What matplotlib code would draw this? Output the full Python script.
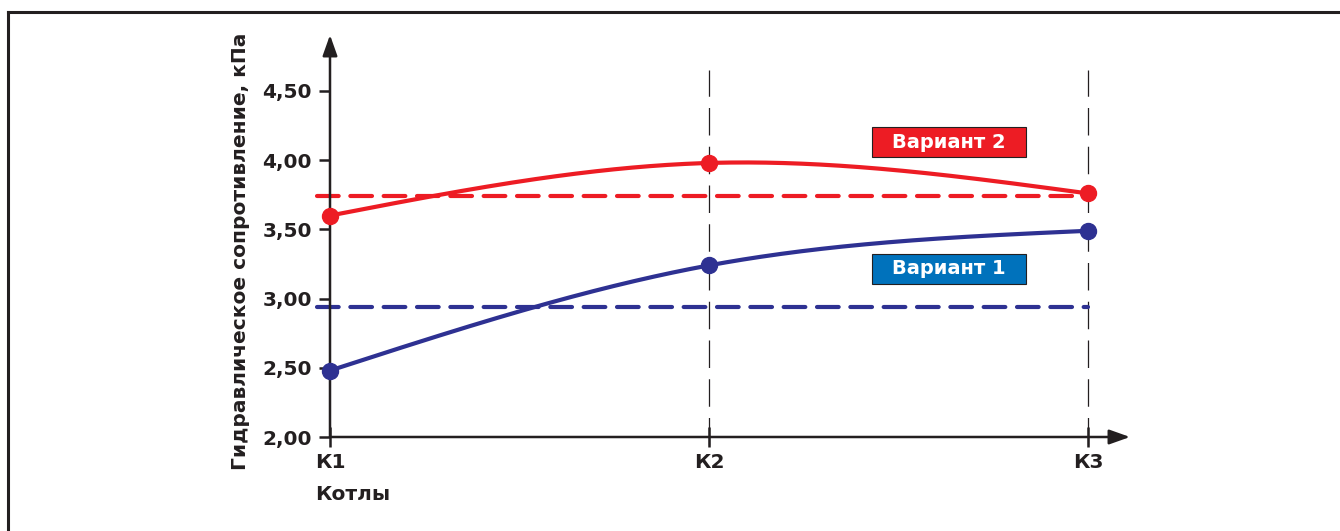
import matplotlib.pyplot as plt
import numpy as np
from matplotlib.patches import Rectangle
from matplotlib.lines import Line2D

# Data
boilers = ['К1', 'К2', 'К3']
variant1 = [2.48, 3.24, 3.49]
variant2 = [3.60, 3.98, 3.76]
variant1_level = 2.94
variant2_level = 3.74
y_ticks = [2.0, 2.5, 3.0, 3.5, 4.0, 4.5]
y_tick_labels = ['2,00', '2,50', '3,00', '3,50', '4,00', '4,50']

W, H = 1340, 531
DARK = '#231f20'
RED = '#ed1c24'
NAVY = '#2e3192'
BOX_BLUE = '#0072bc'
FONT = 'DejaVu Sans'


def natural_spline(x, y, xs):
    """Smooth curve through the points (natural cubic spline)"""
    x = np.asarray(x, float)
    y = np.asarray(y, float)
    n = len(x)
    h = np.diff(x)
    A = np.zeros((n, n))
    b = np.zeros(n)
    A[0, 0] = A[-1, -1] = 1
    for i in range(1, n - 1):
        A[i, i - 1] = h[i - 1]
        A[i, i] = 2 * (h[i - 1] + h[i])
        A[i, i + 1] = h[i]
        b[i] = 6 * ((y[i + 1] - y[i]) / h[i] - (y[i] - y[i - 1]) / h[i - 1])
    M = np.linalg.solve(A, b)
    out = np.empty_like(xs)
    for k, t in enumerate(xs):
        i = min(max(np.searchsorted(x, t) - 1, 0), n - 2)
        a = x[i + 1] - t
        c = t - x[i]
        out[k] = (M[i] * a ** 3 + M[i + 1] * c ** 3) / (6 * h[i]) \
            + (y[i] / h[i] - M[i] * h[i] / 6) * a \
            + (y[i + 1] / h[i] - M[i + 1] * h[i] / 6) * c
    return out


fig = plt.figure(figsize=(W / 100, H / 100), dpi=100)

# outer frame (top and left edges visible)
fig.add_artist(Line2D([7.5 / W, 1], [1 - 12 / H, 1 - 12 / H], color=DARK, lw=2.2, transform=fig.transFigure))
fig.add_artist(Line2D([7.5 / W, 7.5 / W], [0, 1 - 12 / H], color=DARK, lw=2.2, transform=fig.transFigure))

px_x = 379.0   # pixels per category step
px_y = 138.4   # pixels per 1 kPa
ax = fig.add_axes([330 / W, (H - 437) / H, 800 / W, 402 / H])
ax.set_xlim(0, 800 / px_x)
ax.set_ylim(2.0, 2.0 + 402 / px_y)
for s in ax.spines.values():
    s.set_visible(False)
ax.patch.set_alpha(0)

x = np.arange(len(boilers))

# axis arrows
arrow = dict(arrowstyle='-|>,head_length=0.9,head_width=0.32', color=DARK, lw=1.8,
             mutation_scale=14, shrinkA=0, shrinkB=0)
ax.annotate('', xy=(1, 0), xytext=(0, 0), xycoords='axes fraction', arrowprops=arrow)
ax.annotate('', xy=(0, 1), xytext=(0, 0), xycoords='axes fraction', arrowprops=arrow)

# gray dashed guides at K2 and K3
for xi in x[1:]:
    ax.plot([xi, xi], [2.0 - 8 / px_y, 4.65], color=DARK, lw=0.9, ls=(0, (22, 9)),
            clip_on=False, zorder=1)

# level lines
x_left = -13 / px_x
ax.plot([x_left, x[-1]], [variant2_level] * 2, color=RED, lw=3, ls=(0, (5.2, 2.8)),
        dash_capstyle='round', clip_on=False, zorder=2)
ax.plot([x_left, x[-1]], [variant1_level] * 2, color=NAVY, lw=3, ls=(0, (5.2, 2.8)),
        dash_capstyle='round', clip_on=False, zorder=2)

# smooth curves with markers
xs = np.linspace(x[0], x[-1], 300)
ax.plot(xs, natural_spline(x, variant2, xs), color=RED, lw=3, solid_capstyle='round',
        clip_on=False, zorder=3)
ax.plot(xs, natural_spline(x, variant1, xs), color=NAVY, lw=3, solid_capstyle='round',
        clip_on=False, zorder=3)
ax.plot(x, variant2, 'o', color=RED, ms=11.5, clip_on=False, zorder=4)
ax.plot(x, variant1, 'o', color=NAVY, ms=11.5, clip_on=False, zorder=4)

# ticks
ax.set_yticks(y_ticks)
ax.set_yticklabels(y_tick_labels)
ax.set_xticks(x)
ax.set_xticklabels(boilers)
ax.tick_params(axis='y', direction='out', length=8, width=1.8, color=DARK, pad=5,
               labelsize=14.5, labelcolor=DARK)
ax.tick_params(axis='x', direction='inout', length=15, width=1.8, color=DARK, pad=4,
               labelsize=14.5, labelcolor=DARK)
for lab in ax.get_xticklabels() + ax.get_yticklabels():
    lab.set_fontweight('bold')
    lab.set_family(FONT)

# variant boxes
for y_top, y_bot, color, label in [(127, 157, RED, 'Вариант 2'), (254, 284, BOX_BLUE, 'Вариант 1')]:
    x0 = (872 - 330) / px_x
    x1 = (1026 - 330) / px_x
    yb = 2.0 + (437 - y_bot) / px_y
    yt = 2.0 + (437 - y_top) / px_y
    ax.add_patch(Rectangle((x0, yb), x1 - x0, yt - yb, facecolor=color, edgecolor=DARK,
                           lw=0.8, zorder=5))
    ax.text((x0 + x1) / 2, (yb + yt) / 2, label, color='white', fontsize=14, fontweight='bold',
            family=FONT, ha='center', va='center', zorder=6)

# axis titles
fig.text(240 / W, 1 - 251 / H, 'Гидравлическое сопротивление, кПа', rotation=90,
         ha='center', va='center', fontsize=14.5, fontweight='bold', family=FONT, color=DARK)
fig.text(315 / W, 1 - 494 / H, 'Котлы', ha='left', va='center', fontsize=14.5,
         fontweight='bold', family=FONT, color=DARK)

fig.savefig('out.png', dpi=100)
